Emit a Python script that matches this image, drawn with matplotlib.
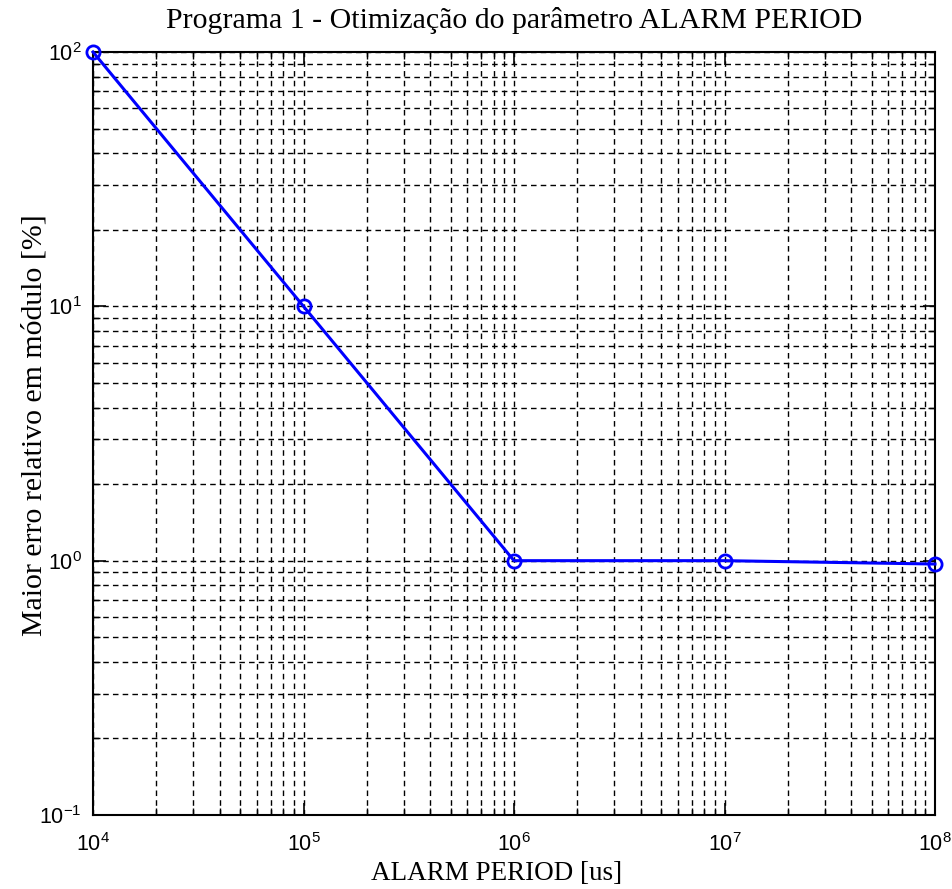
import matplotlib
matplotlib.use("Agg")
import matplotlib.pyplot as plt
from matplotlib.ticker import LogLocator

alarm_period_us = [1e4, 1e5, 1e6, 1e7, 1e8]
max_rel_error_pct = [100, 10, 1.0, 1.0, 0.97]
title = "Programa 1 - Otimização do parâmetro ALARM PERIOD"
xlabel = "ALARM PERIOD [us]"
ylabel = "Maior erro relativo em módulo [%]"

plt.rcParams['mathtext.fontset'] = 'custom'
plt.rcParams['mathtext.rm'] = 'Liberation Sans'
plt.rcParams['mathtext.it'] = 'Liberation Sans:italic'
plt.rcParams['mathtext.default'] = 'rm'
plt.rcParams['axes.unicode_minus'] = False
plt.rcParams['font.family'] = ['Liberation Sans', 'DejaVu Sans']

fig = plt.figure(figsize=(9.52, 8.89), dpi=100)
ax = fig.add_axes([93/952, 1-815/889, (935-93)/952, (815-52)/889])

ax.plot(alarm_period_us, max_rel_error_pct, color='#0000ff', linewidth=2.2,
        marker='o', markersize=9.5, markerfacecolor='none', markeredgewidth=2,
        clip_on=False, zorder=5)
ax.set_xscale('log')
ax.set_yscale('log')
ax.set_xlim(1e4, 1e8)
ax.set_ylim(1e-1, 1e2)

ax.xaxis.set_major_locator(LogLocator(base=10, numticks=10))
ax.xaxis.set_minor_locator(LogLocator(base=10, subs=range(2, 10), numticks=100))
ax.yaxis.set_major_locator(LogLocator(base=10, numticks=10))
ax.yaxis.set_minor_locator(LogLocator(base=10, subs=range(2, 10), numticks=100))

gridstyle = dict(color='black', linestyle=(0, (4, 3)), linewidth=1.0)
ax.grid(True, which='major', **gridstyle)
ax.grid(True, which='minor', **gridstyle)

ax.tick_params(which='both', direction='in', top=True, right=True, color='black')
ax.tick_params(which='major', length=9, width=1.2, labelsize=15.5)
ax.tick_params(which='minor', length=5, width=1.0)
ax.tick_params(axis='x', which='major', pad=13)
ax.tick_params(axis='y', which='major', pad=8)
for s in ax.spines.values():
    s.set_linewidth(1.5)

serif = ['Liberation Serif', 'DejaVu Serif']
ax.set_title(title, fontsize=21.5, family=serif, pad=17)
ax.set_xlabel(xlabel, fontsize=19.5, family=serif)
ax.set_ylabel(ylabel, fontsize=21.5, family=serif)
ax.xaxis.set_label_coords(0.479, -0.0603)
ax.yaxis.set_label_coords(-0.0546, 0.511)

fig.savefig('out.png', dpi=100)
